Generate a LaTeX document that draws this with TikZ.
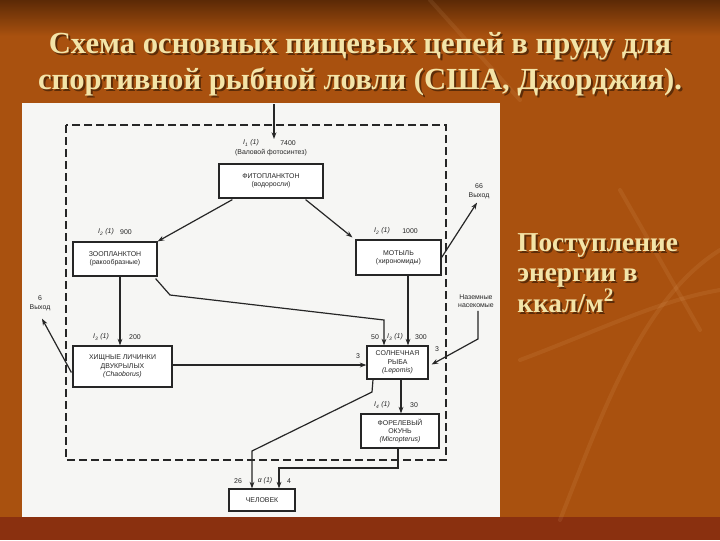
\documentclass[tikz,border=0pt]{standalone}
\usepackage{fontspec}
\setmainfont{Liberation Serif}
\newfontfamily\diagfont{Liberation Sans}
\usetikzlibrary{calc,arrows.meta}
\definecolor{bgmain}{HTML}{A9510F}
\definecolor{bgtop}{HTML}{5C2A06}
\definecolor{bgbot}{HTML}{8A300F}
\definecolor{titlecol}{HTML}{F3E4A8}
\definecolor{ink}{HTML}{262626}
\definecolor{paper}{HTML}{F6F6F4}
\begin{document}
\begin{tikzpicture}[x=0.75pt,y=-0.75pt,
  box/.style={draw=ink, line width=0.9pt, fill=white, inner sep=0pt, align=center,
    font=\diagfont\fontsize{5.2}{6.2}\selectfont, text=ink},
  arr/.style={draw=ink, line width=0.9pt, -{Stealth[length=5pt,width=3.6pt]}},
  ln/.style={draw=ink, line width=0.9pt},
  lbl/.style={font=\diagfont\fontsize{5.2}{6.4}\selectfont, text=ink, inner sep=0pt, align=center},
  ttl/.style={font=\bfseries\fontsize{23}{27}\selectfont, text=titlecol, inner sep=0pt, anchor=base},
  ttlshadow/.style={font=\bfseries\fontsize{23}{27}\selectfont, text=black, opacity=0.45, inner sep=0pt, anchor=base},
  side/.style={font=\bfseries\fontsize{20.5}{24}\selectfont, text=titlecol, inner sep=0pt, anchor=base west},
  sideshadow/.style={font=\bfseries\fontsize{20.5}{24}\selectfont, text=black, opacity=0.45, inner sep=0pt, anchor=base west},
  streak/.style={draw=orange!40!white, opacity=0.09, line width=3pt, line cap=round},
]
\useasboundingbox (0,0) rectangle (720,540);
% background
\fill[bgmain] (0,0) rectangle (720,540);
\shade[top color=bgtop, bottom color=bgmain] (0,0) rectangle (720,36);
\fill[bgbot] (0,517) rectangle (720,540);
\draw[streak] (560,520) .. controls (600,420) and (640,300) .. (720,250);
\draw[streak] (620,190) -- (700,330);
\draw[streak] (520,360) .. controls (600,330) and (660,300) .. (720,290);
\draw[streak] (430,0) -- (520,100);
% paper
\fill[paper] (22,103) rectangle (500,517);
% title
\node[ttlshadow] (t1s) at (362,55) {Схема основных пищевых цепей в пруду для};
\node[ttlshadow] (t2s) at (362,91) {спортивной рыбной ловли (США, Джорджия).};
\node[ttl] (t1) at (360,53) {Схема основных пищевых цепей в пруду для};
\node[ttl] (t2) at (360,89) {спортивной рыбной ловли (США, Джорджия).};
% side text
\node[sideshadow] (r1s) at (519,253) {Поступление};
\node[sideshadow] (r2s) at (519,283) {энергии в};
\node[sideshadow] (r3s) at (519,314) {ккал/м\textsuperscript{2}};
\node[side] (r1) at (517,251) {Поступление};
\node[side] (r2) at (517,281) {энергии в};
\node[side] (r3) at (517,312) {ккал/м\textsuperscript{2}};
% dashed pond border
\draw[ink, line width=1.1pt, dash pattern=on 6pt off 3pt] (66,125) rectangle (446,460);
% boxes
\node[box, minimum width=78pt, minimum height=25.5pt] (phyto) at (271,181)
  {ФИТОПЛАНКТОН\\(водоросли)};
\node[box, minimum width=63pt, minimum height=25.5pt] (zoo) at (115,259)
  {ЗООПЛАНКТОН\\(ракообразные)};
\node[box, minimum width=63.75pt, minimum height=26.25pt] (motyl) at (398.5,257.5)
  {МОТЫЛЬ\\(хирономиды)};
\node[box, minimum width=74.25pt, minimum height=30.75pt] (larvae) at (122.5,366.5)
  {ХИЩНЫЕ ЛИЧИНКИ\\ДВУКРЫЛЫХ\\\textit{(Chaoborus)}};
\node[box, minimum width=45.75pt, minimum height=24.75pt] (sunfish) at (397.5,362.5)
  {СОЛНЕЧНАЯ\\РЫБА\\\textit{(Lepomis)}};
\node[box, minimum width=58.5pt, minimum height=25.5pt] (perch) at (400,431)
  {ФОРЕЛЕВЫЙ\\ОКУНЬ\\\textit{(Micropterus)}};
\node[box, minimum width=49.5pt, minimum height=16.5pt] (human) at (262,500)
  {ЧЕЛОВЕК};
% labels
\node[lbl] (l0a) at (251,143) {\textit{I}\textsubscript{\textit{1}} \textit{(1)}};
\node[lbl] (l0b) at (288,143) {7400};
\node[lbl] (l0c) at (271,153) {(Валовой фотосинтез)};
\node[lbl] (lza) at (106,232) {\textit{I}\textsubscript{\textit{2}} \textit{(1)}};
\node[lbl] (lzb) at (126,232) {900};
\node[lbl] (lma) at (382,231) {\textit{I}\textsubscript{\textit{2}} \textit{(1)}};
\node[lbl] (lmb) at (410,231) {1000};
\node[lbl] (lla) at (101,337) {\textit{I}\textsubscript{\textit{3}} \textit{(1)}};
\node[lbl] (llb) at (135,337) {200};
\node[lbl] (lsa) at (375,337) {50};
\node[lbl] (lsb) at (395,337) {\textit{I}\textsubscript{\textit{3}} \textit{(1)}};
\node[lbl] (lsc) at (421,337) {300};
\node[lbl] (lpa) at (382,405) {\textit{I}\textsubscript{\textit{4}} \textit{(1)}};
\node[lbl] (lpb) at (414,405) {30};
\node[lbl] (lha) at (238,481) {26};
\node[lbl] (lhb) at (265,481) {\textit{α (1)}};
\node[lbl] (lhc) at (289,481) {4};
\node[lbl] (out66) at (479,191) {66\\Выход};
\node[lbl] (out6) at (40,303) {6\\Выход};
\node[lbl] (insects) at (476,301) {Наземные\\насекомые};
\node[lbl] (l3a) at (358,356) {3};
\node[lbl] (l3b) at (437,349) {3};
% connectors
\coordinate (inTop) at (274,104);
\coordinate (inEnd) at (274,139);
\draw[arr] (inTop) -- (inEnd);
\draw[arr] ($(phyto.south west)+(14,1)$) -- (zoo.north east);
\draw[arr] ($(phyto.south east)+(-18,1)$) -- ($(motyl.north west)+(-3,-2)$);
\draw[arr] (motyl.east) -- ($(out66.south)+(-2,4)$);
\draw[arr] ($(zoo.south)+(5,0)$) -- ($(larvae.north)+(-2.5,0)$);
\draw[arr] ($(zoo.south east)+(-2,2)$) -- (170,295) -- (384,320) -- ($(sunfish.north)+(-13.5,0)$);
\draw[arr] ($(motyl.south)+(9.5,0)$) -- ($(sunfish.north)+(10.5,0)$);
\draw[arr] ($(larvae.east)+(0,-1.5)$) -- ($(sunfish.west)+(0,2.5)$);
\draw[arr] ($(larvae.west)+(-1,6)$) -- ($(out6.south)+(2,8)$);
\draw[arr] ($(insects.south)+(2,3)$) -- ++(0,28) -- ($(sunfish.east)+(3,2)$);
\draw[arr] ($(sunfish.south)+(3.5,0)$) -- ($(perch.north)+(1,0)$);
\draw[arr] ($(sunfish.south)+(-24.5,0)$) -- (372,392) -- (252,451) -- ($(human.north)+(-10,0)$);
\draw[arr] ($(perch.south)+(-2,0)$) -- (398,468) -- (279,468) -- ($(human.north)+(17,0)$);
\end{tikzpicture}
\end{document}
